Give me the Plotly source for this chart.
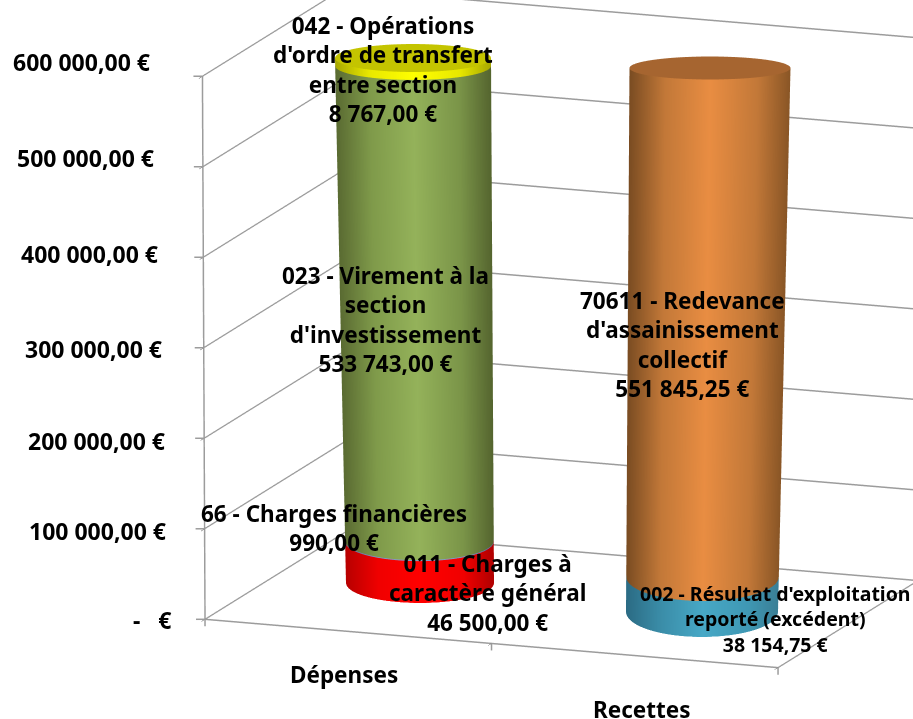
import numpy as np
import plotly.graph_objects as go

categories = ["Dépenses", "Recettes"]
depenses_values = [46500.00, 990.00, 533743.00, 8767.00]
recettes_values = [38154.75, 551845.25]
y_ticks = [0, 100000, 200000, 300000, 400000, 500000, 600000]
y_labels = ["-   €", "100 000,00 €", "200 000,00 €", "300 000,00 €", "400 000,00 €", "500 000,00 €", "600 000,00 €"]
depenses_labels = ["011 - Charges à<br>caractère général<br>46 500,00 €", "66 - Charges financières<br>990,00 €",
                   "023 - Virement à la<br>section<br>d'investissement<br>533 743,00 €", "042 - Opérations<br>d'ordre de transfert<br>entre section<br>8 767,00 €"]
recettes_labels = ["002 - Résultat d'exploitation<br>reporté (excédent)<br>38 154,75 €", "70611 - Redevance<br>d'assainissement<br>collectif<br>551 845,25 €"]

W, H = 913., 719.
ZMAX = 600000.
T = np.array([
(0,0,0,204,619,1),(1,0,0,799,692,1),(1,1,0,895,573,1),(0,1,0,359,516,1),(0,0,1,184,62,1),(0,1,1,347,15,1),(1,1,1,916,41,1),
(0,0,.5,195,348,1),(0,1,.5,352,272,1),(1,1,.5,905,314,1),(.5,0,0,491,655,1),
(.25,.5,0,420,583,2),(.75,.5,0,702,612,2),(.25,.5,.9833,413,58,2),(.75,.5,.9833,710,68,2)], float)
A = np.c_[T[:,:3], np.ones(len(T))]*T[:,[5]]
B = T[:,3:5]*T[:,[5]]
sol = np.linalg.lstsq(A, B, rcond=None)[0]
C = sol[:3]; t0 = sol[3]
Mx = C[:,0]; My = -C[:,1]
E = np.array([Mx**2, My**2, Mx*My])
alpha2 = np.linalg.solve(E, [1,1,0])
DIST = 2.0
S = H/DIST
alpha = np.sqrt(np.abs(alpha2))
a = 1/(S*alpha)
r = Mx*alpha; u = My*alpha
fw = np.cross(u, r)
P0 = t0 + C.sum(0)/2
cc = r*((W/2-P0[0])/S) + u*((P0[1]-H/2)/S)
eye = cc - DIST*fw

fig = go.Figure()
def scr2data(sx, sy, z):
    b = np.stack([sx, sy], -1) - t0 - np.outer(np.atleast_1d(z/ZMAX), C[2])
    uv = b @ np.linalg.inv(C[:2])
    return uv[...,0]*2, uv[...,1]

t = np.linspace(0, 2*np.pi, 73)
FLAT = dict(ambient=1,diffuse=0,specular=0,roughness=1,fresnel=0)
def ring(bot, top, z, rr=1.0):
    f=z/590000.
    xc=bot[0]+(top[0]-bot[0])*f; yc=bot[1]+(top[1]-bot[1])*f
    hw=bot[2]+(top[2]-bot[2])*f; hh=bot[3]+(top[3]-bot[3])*f
    return scr2data(xc+rr*hw*np.cos(t), yc+rr*hh*np.sin(t), np.full_like(t,z))
def add_seg(bot, top, z0, z1, scale):
    X=[];Y=[];Z=[];SC=[]
    for z in (z0,z1):
        x,y=ring(bot,top,z)
        X.append(x);Y.append(y);Z.append(np.full_like(t,z));SC.append(np.cos(t))
    fig.add_trace(go.Surface(x=np.array(X),y=np.array(Y),z=np.array(Z),surfacecolor=np.array(SC),cmin=-1,cmax=1,colorscale=scale,showscale=False,lighting=FLAT,hoverinfo="skip"))
def add_cap(bot, top, z, color):
    X=[];Y=[];Z=[]
    for rr in (0,1):
        x,y=ring(bot,top,z,rr)
        X.append(x);Y.append(y);Z.append(np.full_like(t,z))
    fig.add_trace(go.Surface(x=np.array(X),y=np.array(Y),z=np.array(Z),colorscale=[[0,color],[1,color]],showscale=False,lighting=FLAT,hoverinfo="skip"))
def sc(l,ml,b,mr,r): return [[0,l],[.22,ml],[.5,b],[.8,mr],[1,r]]
RED=sc("#b80000","#f00000","#ff0000","#f00000","#b00000")
BLUE=sc("#5a6ea0","#7f95c8","#8aa0d4","#7f95c8","#5a6ea0")
GREEN=sc("#5a6b32","#7f9a4a","#94b25a","#7a9448","#55652f")
YEL=sc("#a8a800","#e8e800","#ffff00","#e8e800","#a8a800")
TEAL=sc("#2b6b84","#3a8ca7","#47a8c6","#3f98b4","#3a7f96")
ORA=sc("#7a4c22","#c27838","#e98d42","#c27838","#8a5626")

L_bot=(420,583,74,20); L_top=(413,58,78,14)
R_bot=(702,612,76,25); R_top=(710,68,80.5,11.5)
b=0
for v,s in zip(depenses_values,[RED,BLUE,GREEN,YEL]):
    add_seg(L_bot,L_top,b,b+v,s); b+=v
add_cap(L_bot,L_top,b,"#c4c400")
b=0
for v,s in zip(recettes_values,[TEAL,ORA]):
    add_seg(R_bot,R_top,b,b+v,s); b+=v
add_cap(R_bot,R_top,b,"#a66530")

FONT="Noto Sans"
def note(text,x,y,size,anchor="center"):
    return dict(text="<b>"+text.replace("<br>","</b><br><b>")+"</b>",x=x/W,y=1-y/H,xref="paper",yref="paper",xanchor=anchor,yanchor="middle",showarrow=False,align="center",
                font=dict(family=FONT,size=size,color="black"))
notes=[]
for txt,(x,y) in zip(y_labels,[(173,620),(168,531),(167,441),(164,349),(160,254),(156,158),(152,62)]):
    notes.append(note(txt,x,y,23,"right"))
notes.append(note(categories[0],344,674,22.5)); notes.append(note(categories[1],642,709,22.5))
for txt,(x,y,s) in zip(depenses_labels,[(487,593,22.5),(334,528,22.5),(385,319,22.5),(383,69,22.5)]):
    notes.append(note(txt,x,y,s))
for txt,(x,y,s) in zip(recettes_labels,[(775,619,19.5),(682,344,22.5)]):
    notes.append(note(txt,x,y,s))

GRID="#9c9c9c"
def seg(x0,y0,x1,y1):
    return dict(type="line",xref="paper",yref="paper",x0=x0/W,x1=x1/W,y0=1-y0/H,y1=1-y1/H,line=dict(color=GRID,width=1.5))
ticks=[]
for zv in y_ticks:
    p=t0+C[2]*zv/ZMAX
    ticks.append(seg(p[0]-9,p[1],p[0],p[1]))
for k in range(len(categories)+1):
    p=t0+C[0]*k/len(categories)
    ticks.append(seg(p[0],p[1],p[0],p[1]+7))

fig.update_layout(width=913,height=719,margin=dict(l=0,r=0,t=0,b=0),paper_bgcolor="white",showlegend=False,annotations=notes,shapes=ticks,
 scene=dict(domain=dict(x=[0,1],y=[0,1]),
  xaxis=dict(range=[0,2],tickvals=[0,1,2],showticklabels=False,ticks="outside",showgrid=False,zeroline=False,showline=True,linecolor=GRID,linewidth=3,showbackground=False,showspikes=False,title=""),
  yaxis=dict(range=[0,1],tickvals=[],showticklabels=False,showgrid=False,zeroline=False,showline=True,linecolor=GRID,linewidth=3,showbackground=False,showspikes=False,title=""),
  zaxis=dict(range=[0,ZMAX],tickvals=y_ticks,showticklabels=False,ticks="outside",showgrid=True,gridcolor=GRID,gridwidth=3,zeroline=False,showline=True,linecolor=GRID,linewidth=3,showbackground=False,showspikes=False,title=""),
  aspectmode="manual",aspectratio=dict(x=a[0],y=a[1],z=a[2]),
  camera=dict(projection=dict(type="orthographic"),eye=dict(x=eye[0],y=eye[1],z=eye[2]),center=dict(x=cc[0],y=cc[1],z=cc[2]),up=dict(x=u[0],y=u[1],z=u[2]))))
fig.write_html("out.html", config=dict(displayModeBar=False), post_script="document.body.style.margin='0';document.body.style.overflow='hidden';")
